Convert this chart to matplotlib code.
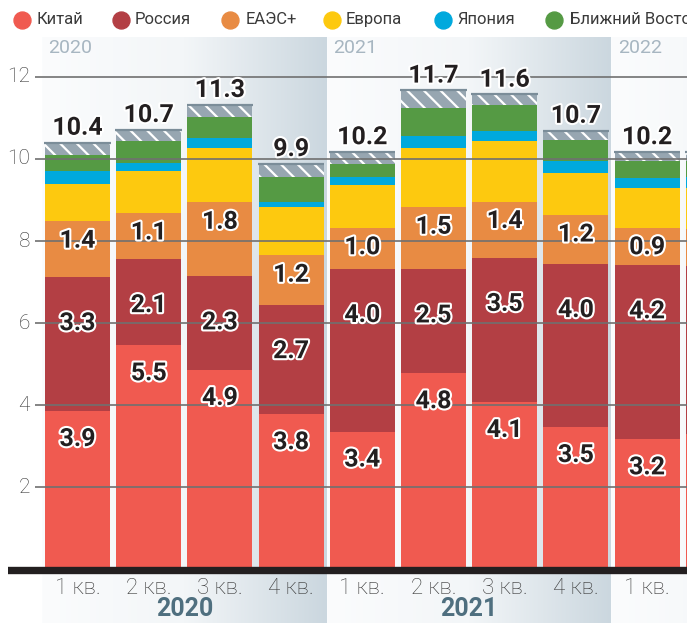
import matplotlib
matplotlib.use("Agg")
import matplotlib.pyplot as plt
import matplotlib.patheffects as pe
from matplotlib.lines import Line2D
from matplotlib.colors import LinearSegmentedColormap
import numpy as np

plt.rcParams['font.family'] = ['Roboto', 'DejaVu Sans']
plt.rcParams['hatch.linewidth'] = 1.6

# --- data (млн т по кварталам) ---
quarters = ["1 кв.", "2 кв.", "3 кв.", "4 кв.", "1 кв.", "2 кв.", "3 кв.", "4 кв.", "1 кв.", "2 кв."]
years = ["2020", "2021", "2022"]
series = ["Китай", "Россия", "ЕАЭС+", "Европа", "Япония", "Ближний Восток"]
colors = ["#f05a50", "#b33f44", "#e88b43", "#fdc90f", "#00a9dd", "#559a44"]
other_color = "#97a6b1"

china = [3.86, 5.46, 4.86, 3.78, 3.36, 4.78, 4.08, 3.47, 3.17, 3.30]
russia = [3.26, 2.10, 2.28, 2.66, 3.96, 2.53, 3.51, 3.97, 4.24, 4.10]
eaeu = [1.36, 1.12, 1.80, 1.21, 1.00, 1.51, 1.37, 1.19, 0.91, 0.90]
europe = [0.90, 1.02, 1.32, 1.19, 1.04, 1.44, 1.47, 1.04, 0.97, 1.00]
japan = [0.32, 0.20, 0.25, 0.12, 0.19, 0.31, 0.26, 0.27, 0.25, 0.25]
mideast = [0.39, 0.53, 0.50, 0.60, 0.33, 0.68, 0.63, 0.53, 0.42, 0.40]
other = [0.31, 0.28, 0.31, 0.32, 0.29, 0.42, 0.25, 0.22, 0.21, 0.22]

yticks = [2, 4, 6, 8, 10, 12]

# --- layout ---
W, H = 687, 623
fig = plt.figure(figsize=(W / 100, H / 100), dpi=100)
ax = fig.add_axes([8 / W, 0, (W - 8) / W, (H - 37) / H])
ax.axis('off')

x = np.arange(len(quarters))
xmin, xmax = -0.976, 8.561
ymin, ymax = -1.30, 12.97
dark = "#231f20"

# year panels with gradient
cmap = LinearSegmentedColormap.from_list("panel", ["#fbfcfd", "#f3f6f8", "#cbd7df"])
grad = np.linspace(0, 1, 256).reshape(1, -1)
for k, yr in enumerate(years):
    x0 = -0.5 + 4 * k
    ax.imshow(grad, cmap=cmap, extent=(x0, x0 + 4, ymin, ymax), aspect='auto', zorder=0)
    ax.text(x0 + 0.09, 12.70, yr, color="#a7b6c1", fontsize=14, ha='left', va='center', zorder=5)
    if x0 + 2 < xmax:
        ax.text(x0 + 2, -0.97, yr, color="#4f6f7f", fontsize=18, fontweight='bold',
                ha='center', va='center', zorder=5)

# stacked bars
stack = [china, russia, eaeu, europe, japan, mideast]
bw = 0.913
bottom = np.zeros(len(x))
tops = []
for vals, col in zip(stack, colors):
    vals = np.array(vals)
    ax.bar(x, vals, bw, bottom=bottom, color=col, linewidth=0, zorder=2)
    bottom = bottom + vals
    tops.append(bottom.copy())
ax.bar(x, other, bw, bottom=bottom, color=other_color, edgecolor="white",
       hatch="\\\\", linewidth=0, zorder=2)
total = bottom + np.array(other)
ax.hlines(total, x - bw / 2 - 0.01, x + bw / 2 + 0.01, color="#7b8d99", lw=1.6, zorder=3)

# grid lines on top of bars
ax.hlines(yticks, -0.597, xmax, color="#707070", lw=1.2, zorder=3)
ax.axhline(0, color=dark, lw=5.3, zorder=4)

stroke = [pe.withStroke(linewidth=3, foreground="white")]
for t in yticks:
    ax.text(-0.667, t, str(t), ha='right', va='center', fontsize=15,
            fontweight='light', color="#333333")

# labels only for the bars that fit in the picture
shown = [i for i in x if i + bw / 2 < xmax]
offsets = [0.68, 1.12, 0.47]
for vals, top, off in zip(stack[:3], tops[:3], offsets):
    for i in shown:
        ax.text(i, top[i] - off, f"{vals[i]:.1f}", ha='center', va='center',
                fontsize=18, fontweight='bold', color=dark, path_effects=stroke, zorder=6)
for i in shown:
    ax.text(i, total[i] + 0.19, f"{total[i]:.1f}", ha='center', va='baseline',
            fontsize=18, fontweight='bold', color=dark, path_effects=stroke, zorder=6)
    ax.text(i, -0.45, quarters[i], ha='center', va='center', fontsize=16,
            fontweight='light', color="#3a3a3a", zorder=5)

ax.set_xlim(xmin, xmax)
ax.set_ylim(ymin, ymax)

# legend
leg_dot_x = [22, 121, 230, 332, 443, 554]
leg_txt_x = [37, 135, 246, 346, 457, 570]
for name, col, dx, tx in zip(series, colors, leg_dot_x, leg_txt_x):
    fig.add_artist(Line2D([dx / W], [1 - 19.5 / H], marker='o', markersize=12.2,
                          color=col, linestyle='none', transform=fig.transFigure))
    fig.text(tx / W, 1 - 19.5 / H, name, fontsize=12, color="#3a3a3a", ha='left', va='center')

fig.savefig("out.png", dpi=100)
